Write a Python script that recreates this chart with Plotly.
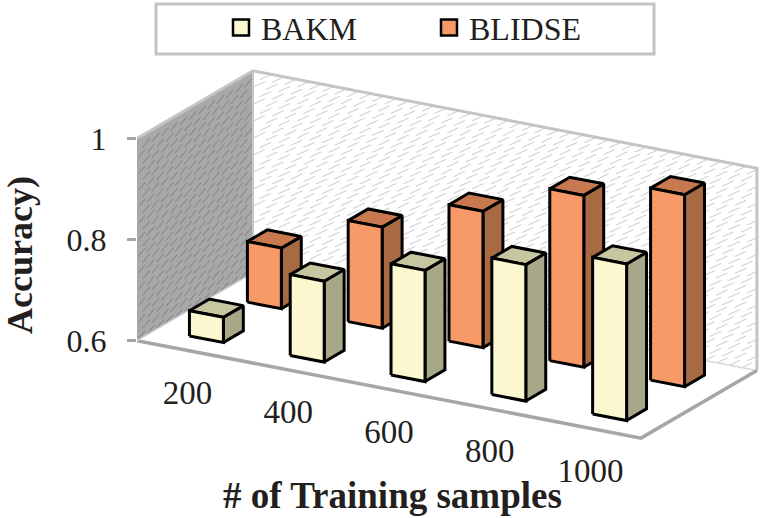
import plotly.graph_objects as go

# values
categories = ["200", "400", "600", "800", "1000"]
bakm = [0.65, 0.76, 0.82, 0.87, 0.91]
blidse = [0.72, 0.80, 0.87, 0.94, 0.98]
y_ticks = [0.6, 0.8, 1]

# oblique projection of the 3d box onto the 2d axes
DEPTH_X = 1.15
DEPTH_Y = 0.134
CAT_DROP = 0.0386
BASE = 0.6
TOP = 1.0
BAR_W = 0.337
BAR_D = 0.172

INK = "#231f20"
FONT = "Liberation Serif"

# plot area in page pixels
PLOT_L, PLOT_T, PLOT_B = 137, 28, 480
PX_PER_UNIT = 507.5


def project(cat, depth, val):
    return cat + depth * DEPTH_X, val - cat * CAT_DROP + depth * DEPTH_Y


def paper_x(px):
    return (px - PLOT_L) / (763 - PLOT_L)


def paper_y(py):
    return (PLOT_B - py) / (PLOT_B - PLOT_T)


def polygons(items):
    # join several polygons into one trace, split by None
    xs, ys = [], []
    for corners in items:
        for c in list(corners) + [corners[0]]:
            px, py = project(*c)
            xs.append(px)
            ys.append(py)
        xs.append(None)
        ys.append(None)
    return xs, ys


def add_poly(fig, items, fill, line=None, width=0):
    xs, ys = polygons(items)
    fig.add_trace(go.Scatter(
        x=xs, y=ys, mode="lines", fill="toself", fillcolor=fill,
        line=dict(color=line or fill, width=width),
        showlegend=False, hoverinfo="skip",
    ))


def add_edge(fig, points, color, width):
    xs, ys = zip(*[project(*p) for p in points])
    fig.add_trace(go.Scatter(
        x=xs, y=ys, mode="lines", line=dict(color=color, width=width),
        showlegend=False, hoverinfo="skip",
    ))


def add_dashes(fig, points, color, size, angle):
    # the wall texture: short slanted dashes
    xs, ys = zip(*[project(*p) for p in points])
    fig.add_trace(go.Scatter(
        x=xs, y=ys, mode="markers",
        marker=dict(symbol="line-ew", size=size, angle=angle, line=dict(color=color, width=1.1)),
        showlegend=False, hoverinfo="skip",
    ))


def add_series(fig, values, d0, front, side, top):
    d1 = d0 + BAR_D
    fronts, sides, tops = [], [], []
    for i, v in enumerate(values):
        l = i + (1 - BAR_W) / 2
        r = l + BAR_W
        fronts.append([(l, d0, BASE), (r, d0, BASE), (r, d0, v), (l, d0, v)])
        sides.append([(r, d0, BASE), (r, d1, BASE), (r, d1, v), (r, d0, v)])
        tops.append([(l, d0, v), (r, d0, v), (r, d1, v), (l, d1, v)])
    add_poly(fig, sides, side, "black", 3)
    add_poly(fig, tops, top, "black", 3)
    add_poly(fig, fronts, front, "black", 3)


n = len(categories)
fig = go.Figure()

# walls and floor
add_poly(fig, [[(0, 0, BASE), (0, 1, BASE), (0, 1, TOP), (0, 0, TOP)]], "#a8a8a8")
add_poly(fig, [[(0, 1, BASE), (n, 1, BASE), (n, 1, TOP), (0, 1, TOP)]], "white")

side_dashes = []
for r in range(24):
    for c in range(12):
        side_dashes.append(((c + 0.5 + 0.5 * (r % 2)) * 0.08, 0.606 + r * 0.0163))
add_dashes(fig, [(0, d, v) for d, v in side_dashes], "#8b8b8b", 8, -50)

back_dashes = []
for r in range(24):
    for c in range(40):
        back_dashes.append(((c + 0.5 + 0.5 * (r % 2)) * 0.124, 0.606 + r * 0.0168))
add_dashes(fig, [(c, 1, v) for c, v in back_dashes], "#d2d2d2", 9, -25)

add_poly(fig, [[(0, 0, BASE), (n, 0, BASE), (n, 1, BASE), (0, 1, BASE)]], "white")

add_edge(fig, [(0, 0, TOP), (0, 1, TOP), (n, 1, TOP), (n, 1, BASE)], "#c4c4c4", 3)
add_edge(fig, [(0, 1, TOP), (0, 1, BASE)], "#c4c4c4", 2)
add_edge(fig, [(0, 1, BASE), (n, 1, BASE)], "#d9d9d9", 1.5)
add_edge(fig, [(0, 0, TOP), (0, 0, BASE), (n, 0, BASE), (n, 1, BASE)], "#a6a6a6", 3.5)
add_edge(fig, [(0, 0, BASE), (0, 1, BASE)], "#d0d0d0", 1.5)

# bars, back row first
add_series(fig, blidse, 0.664, "#f79a68", "#a86a42", "#c8794f")
add_series(fig, bakm, 0.164, "#fbf8d0", "#a7a888", "#c6c7a0")

# category labels under the front floor edge
lx, ly = zip(*[project(i + 0.5, 0, BASE - 0.089) for i in range(n)])
fig.add_trace(go.Scatter(
    x=lx, y=ly, mode="text", text=categories, cliponaxis=False,
    textfont=dict(family=FONT, size=33, color=INK),
    showlegend=False, hoverinfo="skip",
))

# legend entries
for name, color in [("BAKM", "#fbf8d0"), ("BLIDSE", "#f79a68")]:
    fig.add_trace(go.Scatter(
        x=[None], y=[None], mode="markers", name=name,
        marker=dict(symbol="square", size=16, color=color, line=dict(color="black", width=2.5)),
    ))

fig.add_shape(type="rect", xref="paper", yref="paper",
              x0=paper_x(156), x1=paper_x(654), y0=paper_y(52), y1=paper_y(2),
              line=dict(color="#c4c4c4", width=3), fillcolor="white", layer="below")

fig.add_annotation(text="<b># of Training samples</b>", xref="paper", yref="paper",
                   x=paper_x(392), y=paper_y(496), showarrow=False, xanchor="center", yanchor="middle",
                   font=dict(family=FONT, size=37, color=INK))

fig.update_layout(
    width=763, height=518,
    margin=dict(l=PLOT_L, r=0, t=PLOT_T, b=518 - PLOT_B),
    paper_bgcolor="white", plot_bgcolor="white",
    font=dict(family=FONT, size=32, color=INK),
    showlegend=True,
    legend=dict(orientation="h", x=paper_x(221), y=paper_y(-2), xanchor="left", yanchor="top",
                bgcolor="rgba(0,0,0,0)", borderwidth=0, itemsizing="trace",
                entrywidth=163, entrywidthmode="pixels", font=dict(family=FONT, size=32, color=INK)),
    xaxis=dict(visible=False, range=[0, 626 / 100.8]),
    yaxis=dict(
        range=[BASE - (PLOT_B - 340) / PX_PER_UNIT, TOP + (137 - PLOT_T) / PX_PER_UNIT],
        tickmode="array", tickvals=y_ticks, ticktext=["0.6", "0.8", "1"],
        ticks="outside", ticklen=9, tickwidth=3, tickcolor="#a6a6a6",
        ticklabelstandoff=14,
        showgrid=False, zeroline=False, showline=False,
        tickfont=dict(family=FONT, size=32, color=INK),
        title=dict(text="<b>Accuracy)</b>", standoff=28, font=dict(family=FONT, size=36, color=INK)),
    ),
)

# the page keeps its default body margin otherwise
fig.write_html("out.html", post_script="document.body.style.margin='0';",
               config=dict(displayModeBar=False))
